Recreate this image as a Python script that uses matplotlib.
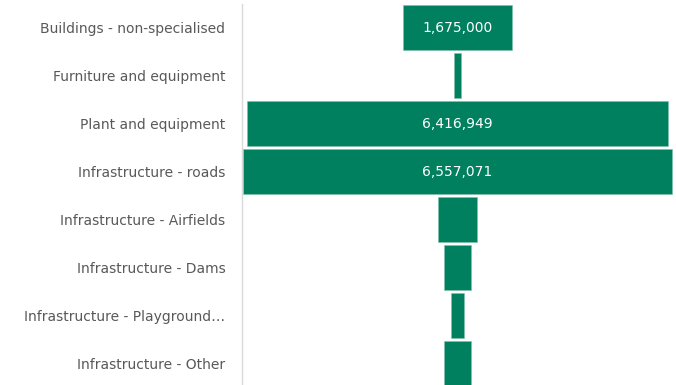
import matplotlib
matplotlib.use("Agg")
import matplotlib.pyplot as plt
from matplotlib import font_manager

categories = ["Buildings - non-specialised", "Furniture and equipment", "Plant and equipment",
              "Infrastructure - roads", "Infrastructure - Airfields", "Infrastructure - Dams",
              "Infrastructure - Playground\u2026", "Infrastructure - Other"]
values = [1675000, 107000, 6416949, 6557071, 580000, 418000, 185000, 412000]
labels = ["1,675,000", "", "6,416,949", "6,557,071", "", "", "", ""]

names = {f.name for f in font_manager.fontManager.ttflist}
fam = ["DejaVu Sans Condensed"] if "DejaVu Sans Condensed" in names else ["DejaVu Sans"]
fs = 11.0 if fam[0] == "DejaVu Sans Condensed" else 10.0

W, H = 676, 385
fig = plt.figure(figsize=(W / 100, H / 100), dpi=100)
ax = fig.add_axes([242 / W, 1 - 387 / H, 431 / W, 383 / H])

color = "#00805F"
y = list(range(len(categories)))
lefts = [-v / 2 for v in values]
ax.barh(y, values, left=lefts, height=0.94, color=color, edgecolor="#7fbfaf", linewidth=0.4)
for yi, v, lab in zip(y, values, labels):
    if lab:
        ax.text(0, yi, lab, ha="center", va="center", color="white", fontsize=fs,
                family=fam)

half = 3289000
ax.set_xlim(-half, half)
ax.set_ylim(len(categories) - 0.5, -0.5)
ax.set_xticks([])
ax.set_yticks(y)
ax.set_yticklabels(categories, fontsize=fs, color="#595959", family=fam)
ax.tick_params(axis="y", length=0, pad=12)
for s in ["top", "right", "bottom"]:
    ax.spines[s].set_visible(False)
ax.spines["left"].set_color("#d9d9d9")
ax.spines["left"].set_linewidth(1)

fig.savefig("out.png", dpi=100)
